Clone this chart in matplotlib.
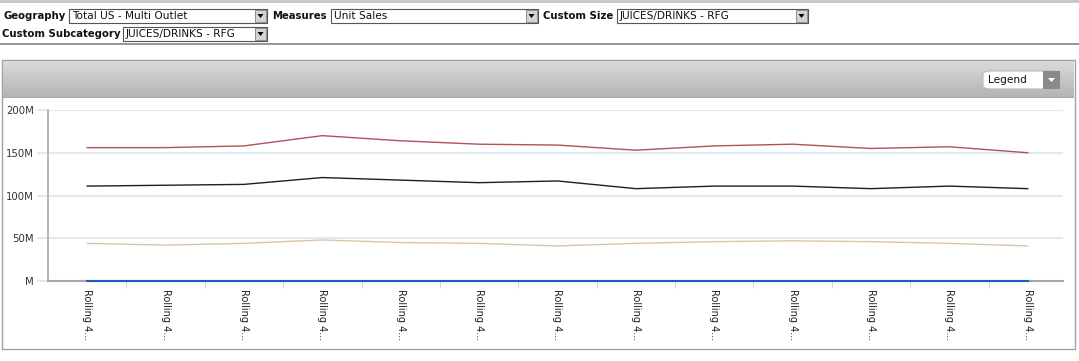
import matplotlib.pyplot as plt
import numpy as np
from matplotlib.patches import Rectangle, FancyBboxPatch, Polygon
from matplotlib.colors import LinearSegmentedColormap

W, H = 1079, 361

# data (unit sales, millions)
periods = ["Rolling 4..."] * 13
series_red = [156, 156, 158, 170, 164, 160, 159, 153, 158, 160, 155, 157, 150]
series_black = [111, 112, 113, 121, 118, 115, 117, 108, 111, 111, 108, 111, 108]
series_tan = [44, 42, 44, 48, 45, 44, 41, 44, 46, 47, 46, 44, 41]
series_blue = [0.4, 0.4, 0.4, 0.4, 0.4, 0.4, 0.4, 0.4, 0.4, 0.4, 0.4, 0.4, 0.4]
ytick_vals = [0, 50, 100, 150, 200]
ytick_labels = ["M", "50M", "100M", "150M", "200M"]

filters = [("Geography", 3, 16, "Total US - Multi Outlet", 69, 267),
           ("Measures", 272, 16, "Unit Sales", 331, 538),
           ("Custom Size", 543, 16, "JUICES/DRINKS - RFG", 617, 808),
           ("Custom Subcategory", 2, 34, "JUICES/DRINKS - RFG", 123, 267)]


def fx(x):
    return x / W


def fy(y):
    return 1 - y / H


def box(fig, x0, y0, x1, y1, **kw):
    r = Rectangle((fx(x0), fy(y1)), fx(x1) - fx(x0), fy(y0) - fy(y1),
                  transform=fig.transFigure, **kw)
    fig.patches.append(r)
    return r


fig = plt.figure(figsize=(W / 100, H / 100), dpi=100)
fig.patch.set_facecolor("white")

# toolbar
box(fig, 0, 0, W, 3, facecolor="#c8c8c8", edgecolor="none")
box(fig, 0, 43, W, 45, facecolor="#999999", edgecolor="none")
for label, lx, ly, value, bx0, bx1 in filters:
    fig.text(fx(lx), fy(ly), label, fontsize=7.3, fontweight="bold",
             va="center", ha="left", color="#111111")
    box(fig, bx0, ly - 7, bx1, ly + 7, facecolor="white",
        edgecolor="#555555", linewidth=0.8)
    fig.text(fx(bx0 + 3), fy(ly), value, fontsize=7.6, va="center",
             ha="left", color="#111111")
    box(fig, bx1 - 12, ly - 6, bx1 - 1, ly + 6, facecolor="#d6d3ce",
        edgecolor="#808080", linewidth=0.6)
    tri = Polygon([(fx(bx1 - 9.5), fy(ly - 2)), (fx(bx1 - 3.5), fy(ly - 2)),
                   (fx(bx1 - 6.5), fy(ly + 2))], closed=True,
                  transform=fig.transFigure, facecolor="black", edgecolor="none")
    fig.patches.append(tri)

# chart panel (kept behind the axes)
box(fig, 2, 60, 1075, 349, facecolor="white", edgecolor="#a0a0a0",
    linewidth=1.0, zorder=-10)
hdr = fig.add_axes([fx(3), fy(97), fx(1074) - fx(3), fy(61) - fy(97)])
hdr.set_zorder(-5)
grad_cmap = LinearSegmentedColormap.from_list("hdr", ["#dadada", "#b4b4b4"])
hdr.imshow(np.linspace(0, 1, 60).reshape(-1, 1), cmap=grad_cmap,
           aspect="auto", extent=[0, 1, 1, 0])
hdr.axis("off")
box(fig, 3, 97, 1074, 98, facecolor="#a8a8a8", edgecolor="none")

# legend button
leg = FancyBboxPatch((fx(983), fy(89)), fx(1060) - fx(983), fy(71) - fy(89),
                     boxstyle="round,pad=0,rounding_size=0.008",
                     transform=fig.transFigure, facecolor="white",
                     edgecolor="#bbbbbb", linewidth=0.8)
fig.patches.append(leg)
box(fig, 1043, 71, 1060, 89, facecolor="#8a8a8a", edgecolor="none")
fig.patches.append(Polygon([(fx(1048), fy(78)), (fx(1055), fy(78)),
                            (fx(1051.5), fy(82))], closed=True,
                           transform=fig.transFigure, facecolor="white",
                           edgecolor="none"))
fig.text(fx(988), fy(80), "Legend", fontsize=7.6, va="center", ha="left",
         color="#111111")

# plot
ax = fig.add_axes([fx(48), fy(281), fx(1063) - fx(48), fy(110) - fy(281)])
ax.patch.set_alpha(0)
x = np.arange(len(periods))
ax.plot(x, series_red, color="#b4505a", linewidth=1.0, zorder=3)
ax.plot(x, series_black, color="#1e1e1e", linewidth=1.0, zorder=3)
ax.plot(x, series_tan, color="#dcc4aa", linewidth=1.0, zorder=3)
ax.plot(x, series_blue, color="#1f5cc4", linewidth=1.5, zorder=4,
        clip_on=False)

ax.set_xlim(-0.5, 12.45)
ax.set_ylim(0, 200)
ax.set_yticks(ytick_vals)
ax.set_yticklabels(ytick_labels)
ax.yaxis.grid(True, color="#e1eaf2", linewidth=1.5)
ax.set_axisbelow(True)
ax.tick_params(axis="y", length=8, width=1.5, color="#e1eaf2", pad=2,
               labelsize=7.3, labelcolor="#333333")

ax.set_xticks(x)
ax.set_xticklabels(periods, rotation=270, fontsize=7, color="#222222",
                   va="top", ha="center")
ax.set_xticks(x[:-1] + 0.5, minor=True)
ax.tick_params(axis="x", which="major", length=0, pad=6)
ax.tick_params(axis="x", which="minor", length=5, color="#cccccc")

for s in ["top", "right"]:
    ax.spines[s].set_visible(False)
ax.spines["left"].set_color("#a8a8a8")
ax.spines["bottom"].set_color("#a8a8a8")
ax.spines["left"].set_linewidth(1.2)
ax.spines["bottom"].set_linewidth(1.5)

fig.savefig("out.png", dpi=100)
